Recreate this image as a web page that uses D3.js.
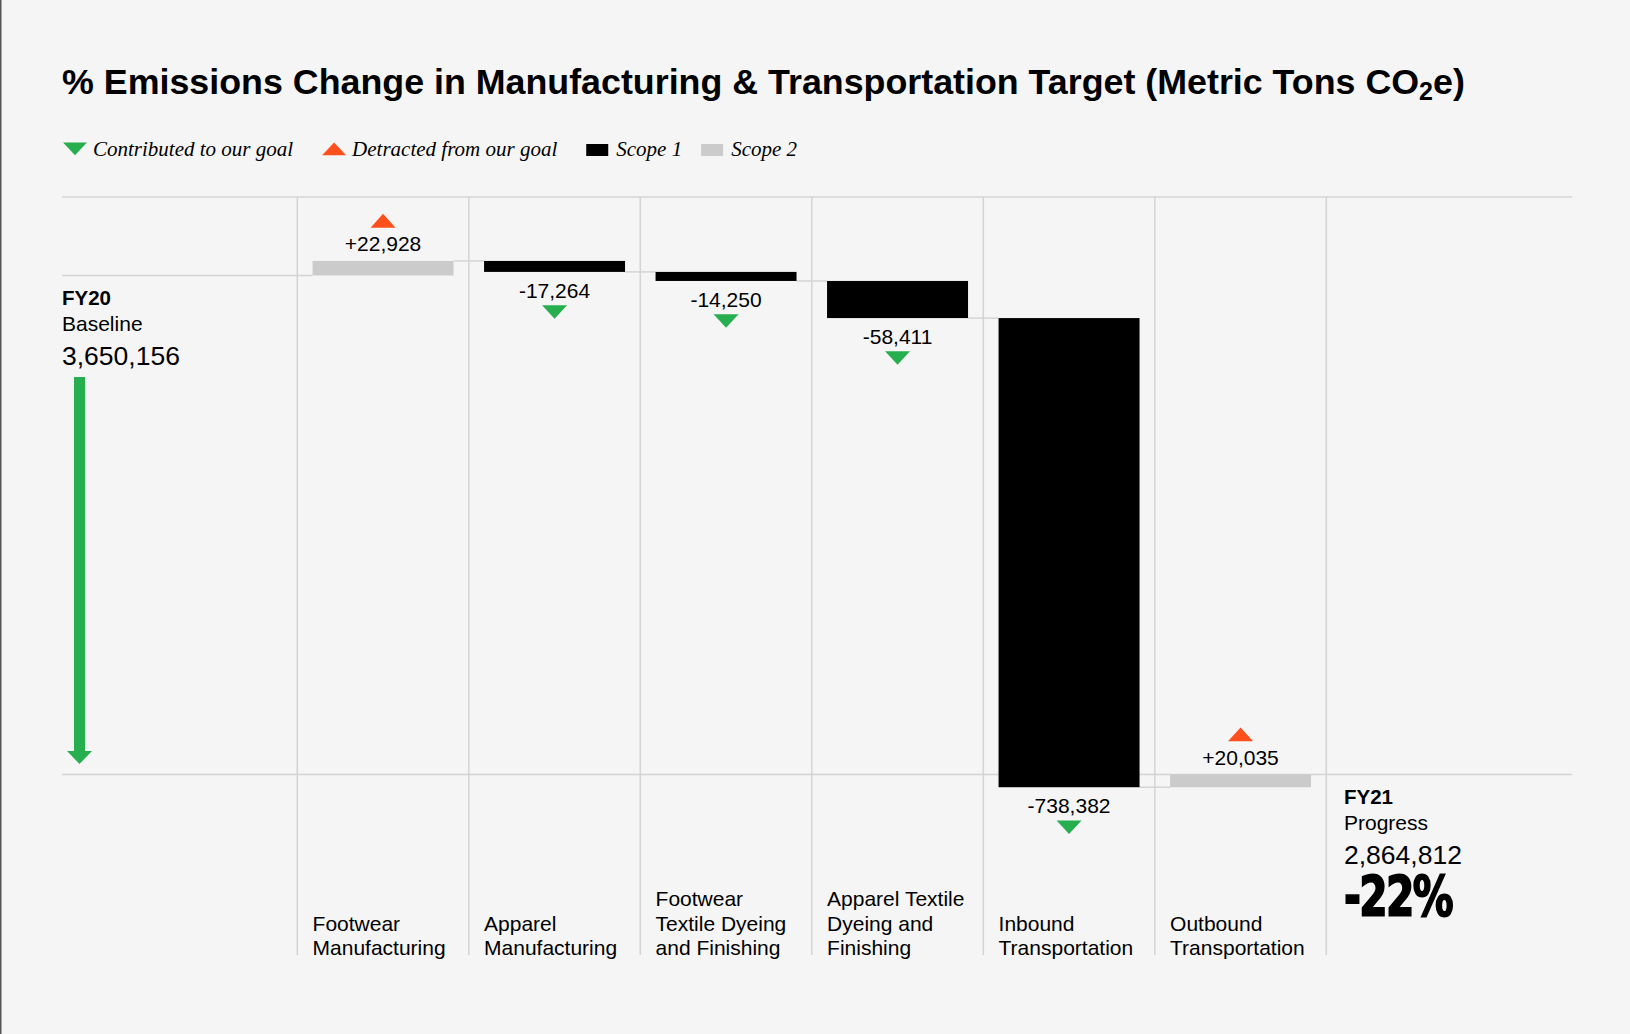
<!DOCTYPE html>
<html>
<head>
<meta charset="utf-8">
<script src="https://cdn.jsdelivr.net/npm/d3@7"></script>
<style>
  body { margin: 0; background: #f5f5f5; }
  svg { display: block; }
  .sans { font-family: "Liberation Sans", Arial, Helvetica, sans-serif; }
</style>
</head>
<body>
<svg width="1630" height="1034"></svg>
<script>
// data
var categories = ["Footwear Manufacturing", "Apparel Manufacturing", "Footwear Textile Dyeing and Finishing",
                  "Apparel Textile Dyeing and Finishing", "Inbound Transportation", "Outbound Transportation"];
var labelLines = [["Footwear", "Manufacturing"], ["Apparel", "Manufacturing"], ["Footwear", "Textile Dyeing", "and Finishing"],
                  ["Apparel Textile", "Dyeing and", "Finishing"], ["Inbound", "Transportation"], ["Outbound", "Transportation"]];
var changes = [22928, -17264, -14250, -58411, -738382, 20035];
var scopes = [2, 1, 1, 1, 1, 2];
var baselineValue = 3650156;
var progressValue = 2864812;
var pctChange = "-22%";
var legendItems = [
  {label: "Contributed to our goal", type: "down"},
  {label: "Detracted from our goal", type: "up"},
  {label: "Scope 1", type: "scope1"},
  {label: "Scope 2", type: "scope2"}
];

var green = "#27ae4f", red = "#ff4f1c", grey = "#cbcbcb", gridColor = "#d4d4d4";

var svg = d3.select("svg"),
    gLeft = 62, gRight = 1572, gTop = 197, gBottom = 955;

svg.append("rect").attr("width", 1630).attr("height", 1034).attr("fill", "#f5f5f5");
svg.append("line").attr("x1", 0.75).attr("x2", 0.75).attr("y1", 0).attr("y2", 1034)
    .attr("stroke", "#555").attr("stroke-width", 1.5);

// running totals
var rows = [], total = baselineValue;
changes.forEach(function(v, i) {
  rows.push({cat: categories[i], lines: labelLines[i], value: v, scope: scopes[i], start: total, end: total + v});
  total += v;
});

var x = d3.scaleBand().domain(categories).range([297.3, 1326.3]).paddingInner(0.178).paddingOuter(0.089),
    y = d3.scaleLinear().domain([progressValue, baselineValue]).range([774.5, 275.5]);
var half = x.step() * 0.089;

// title
var title = svg.append("text").attr("class", "sans").attr("x", gLeft).attr("y", 94)
    .attr("font-size", 35.8).attr("font-weight", "bold").attr("fill", "#000");
title.append("tspan").text("% Emissions Change in Manufacturing & Transportation Target (Metric Tons CO");
title.append("tspan").attr("font-size", 25).attr("dy", 6).text("2");
title.append("tspan").attr("dy", -6).text("e)");

// legend
var lx = 63, ly = 156, gaps = [29, 29, 19];
legendItems.forEach(function(d, i) {
  var g = svg.append("g");
  if (d.type == "down") {
    g.append("path").attr("d", "M" + lx + "," + (ly - 13.5) + "h24l-12,12.7z").attr("fill", green);
  } else if (d.type == "up") {
    g.append("path").attr("d", "M" + lx + "," + (ly - 0.8) + "h24l-12,-12.7z").attr("fill", red);
  } else {
    g.append("rect").attr("x", lx).attr("y", ly - 12).attr("width", 22).attr("height", 12)
        .attr("fill", d.type == "scope1" ? "#000" : grey);
  }
  var t = g.append("text").attr("x", lx + 30).attr("y", ly)
      .attr("font-family", "'Liberation Serif', 'Times New Roman', serif").attr("font-style", "italic")
      .attr("font-size", 21).attr("fill", "#000").text(d.label);
  lx = lx + 30 + t.node().getComputedTextLength() + (gaps[i] || 0);
});

// grid
svg.append("line").attr("x1", gLeft).attr("x2", gRight).attr("y1", gTop).attr("y2", gTop)
    .attr("stroke", gridColor).attr("stroke-width", 1.5);
svg.append("line").attr("x1", gLeft).attr("x2", gRight).attr("y1", y(progressValue)).attr("y2", y(progressValue))
    .attr("stroke", gridColor).attr("stroke-width", 1.5);
var vlines = categories.map(function(c) { return x(c) - half; }).concat([x(categories[categories.length - 1]) + x.bandwidth() + half]);
svg.selectAll(".vline").data(vlines).enter().append("line").attr("class", "vline")
    .attr("x1", function(d) { return d; }).attr("x2", function(d) { return d; })
    .attr("y1", gTop).attr("y2", gBottom).attr("stroke", gridColor).attr("stroke-width", 1.5);

// connectors
svg.append("line").attr("x1", gLeft).attr("x2", x(categories[0]))
    .attr("y1", y(baselineValue)).attr("y2", y(baselineValue)).attr("stroke", gridColor).attr("stroke-width", 1.5);
svg.selectAll(".conn").data(rows.slice(0, -1)).enter().append("line").attr("class", "conn")
    .attr("x1", function(d) { return x(d.cat) + x.bandwidth(); })
    .attr("x2", function(d, i) { return x(categories[i + 1]); })
    .attr("y1", function(d) { return y(d.end); }).attr("y2", function(d) { return y(d.end); })
    .attr("stroke", gridColor).attr("stroke-width", 1.5);

// bars
svg.selectAll(".bar").data(rows).enter().append("rect").attr("class", "bar")
    .attr("x", function(d) { return x(d.cat); })
    .attr("y", function(d) { return y(Math.max(d.start, d.end)); })
    .attr("width", x.bandwidth())
    .attr("height", function(d) { return Math.abs(y(d.start) - y(d.end)); })
    .attr("fill", function(d) { return d.scope == 1 ? "#000" : grey; });

// value labels + arrows
var fmt = d3.format(",");
rows.forEach(function(d) {
  var cx = x(d.cat) + x.bandwidth() / 2;
  if (d.value > 0) {
    var yt = y(d.end);
    svg.append("text").attr("class", "sans").attr("x", cx).attr("y", yt - 10).attr("text-anchor", "middle")
        .attr("font-size", 21).text("+" + fmt(d.value));
    svg.append("path").attr("d", "M" + (cx - 12.5) + "," + (yt - 33.3) + "h25l-12.5,-13.8z").attr("fill", red);
  } else {
    var yb = y(d.end);
    svg.append("text").attr("class", "sans").attr("x", cx).attr("y", yb + 26).attr("text-anchor", "middle")
        .attr("font-size", 21).text("-" + fmt(-d.value));
    svg.append("path").attr("d", "M" + (cx - 12.5) + "," + (yb + 33.3) + "h25l-12.5,13.5z").attr("fill", green);
  }
});

// category labels, bottom aligned
rows.forEach(function(d) {
  var n = d.lines.length;
  var t = svg.append("text").attr("class", "sans").attr("font-size", 21);
  d.lines.forEach(function(s, j) {
    t.append("tspan").attr("x", x(d.cat)).attr("y", gBottom - (n - 1 - j) * 24.5).text(s);
  });
});

// FY20 / FY21 side blocks
function sideBlock(xp, value, yr, word) {
  var y0 = y(value);
  svg.append("text").attr("class", "sans").attr("x", xp).attr("y", y0 + 29)
      .attr("font-size", 20.5).attr("font-weight", "bold").text(yr);
  svg.append("text").attr("class", "sans").attr("x", xp).attr("y", y0 + 55).attr("font-size", 21).text(word);
  svg.append("text").attr("class", "sans").attr("x", xp).attr("y", y0 + 89.5).attr("font-size", 26.5).text(fmt(value));
}
sideBlock(gLeft, baselineValue, "FY20", "Baseline");
sideBlock(1344, progressValue, "FY21", "Progress");

// big condensed percentage, squeezed to the reference width
var pct = svg.append("text").attr("x", 1344).attr("y", y(progressValue) + 140.5)
    .attr("font-family", "'Liberation Sans Narrow', 'DejaVu Sans Condensed', 'Liberation Sans', sans-serif")
    .attr("font-weight", "bold").attr("font-size", 56).attr("letter-spacing", -2)
    .attr("stroke", "#000").attr("stroke-width", 1.8).text(pctChange);
var pw = pct.node().getComputedTextLength();
pct.attr("transform", "translate(1344,0) scale(" + (108 / pw) + ",1) translate(-1344,0)");

// big green arrow from baseline to progress
var ax = 79.5, ay1 = y(baselineValue) + 101.5, ay2 = y(progressValue) - 10.5;
svg.append("rect").attr("x", ax - 5.5).attr("y", ay1).attr("width", 11).attr("height", ay2 - ay1 - 12)
    .attr("fill", green);
svg.append("path").attr("d", "M" + (ax - 12.5) + "," + (ay2 - 13) + "h25l-12.5,13z").attr("fill", green);
</script>
</body>
</html>
